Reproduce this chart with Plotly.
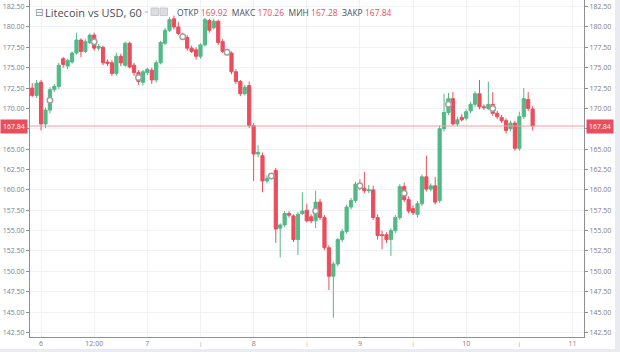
import plotly.graph_objects as go

# ---------------- data ----------------
# hourly candles, x = hours since day "6" 00:00
hours = list(range(-2, 112))
opens = [172.5, 171.6, 173.2, 168.1, 169.8, 172.3, 172.7, 176.1, 175.2, 175.7,
         176.8, 178.4, 177.0, 178.1, 179.0, 177.4, 177.5, 175.7, 175.6, 174.3,
         176.4, 175.3, 178.0, 175.3, 174.4, 173.2, 174.4, 174.7, 173.5, 175.6,
         178.0, 179.6, 181.0, 180.0, 179.0, 178.7, 177.4, 177.2, 176.4, 177.8,
         180.8, 179.9, 180.7, 178.2, 176.9, 176.8, 174.5, 173.3, 171.8, 172.8,
         167.9, 164.4, 164.2, 161.1, 161.6, 162.4, 155.3, 155.7, 157.1, 156.8,
         153.9, 157.1, 157.5, 156.7, 156.2, 158.5, 156.6, 152.9, 149.4, 150.9,
         153.9, 154.9, 157.9, 158.7, 160.6, 160.2, 159.9, 160.0, 156.6, 154.5,
         154.5, 153.9, 155.0, 156.6, 160.4, 158.8, 157.7, 157.0, 158.3, 161.6,
         160.1, 160.5, 158.7, 167.5, 169.5, 171.2, 168.1, 168.9, 168.8, 169.7,
         170.5, 171.8, 170.2, 170.0, 170.5, 169.4, 168.9, 168.5, 167.5, 168.2,
         165.1, 169.0, 171.1, 169.92]
highs = [173.1, 173.5, 173.5, 170.1, 172.6, 173.0, 175.6, 176.3, 176.1, 177.0,
         179.3, 178.6, 178.5, 179.2, 179.3, 177.9, 177.7, 176.0, 175.9, 176.8,
         176.7, 178.2, 178.2, 175.6, 174.7, 174.7, 175.0, 175.0, 175.9, 178.3,
         179.9, 181.2, 181.4, 180.6, 179.3, 179.0, 177.7, 177.5, 178.0, 181.1,
         181.0, 181.0, 180.9, 178.5, 177.2, 177.0, 174.8, 173.5, 172.9, 173.3,
         168.2, 165.5, 164.6, 161.8, 162.0, 162.7, 155.9, 157.4, 157.4, 157.0,
         157.3, 159.7, 158.3, 157.0, 159.9, 158.9, 156.9, 153.2, 151.2, 154.1,
         155.2, 158.2, 159.0, 161.0, 161.3, 162.2, 160.6, 160.5, 157.0, 155.0,
         154.8, 155.3, 156.9, 160.7, 160.9, 159.2, 158.1, 158.6, 161.9, 164.2,
         160.8, 161.6, 167.9, 171.8, 171.9, 172.0, 169.0, 169.3, 169.9, 170.8,
         172.1, 173.5, 170.5, 173.3, 172.0, 169.7, 169.2, 168.8, 168.5, 168.5,
         169.6, 172.5, 172.0, 170.26]
lows = [171.4, 171.3, 167.3, 167.6, 169.4, 172.0, 172.4, 175.0, 174.8, 175.5,
        176.6, 176.3, 176.8, 177.9, 177.1, 177.1, 175.3, 175.2, 174.0, 174.0,
        175.2, 175.1, 174.9, 174.0, 172.9, 172.8, 174.1, 173.0, 173.2, 175.4,
        177.8, 179.4, 179.7, 179.0, 178.5, 177.1, 176.8, 176.0, 176.1, 177.6,
        179.3, 179.7, 177.8, 176.8, 176.5, 174.2, 173.0, 171.5, 171.6, 167.6,
        161.1, 164.0, 159.7, 160.8, 161.3, 153.5, 151.7, 155.4, 156.6, 153.6,
        152.0, 156.9, 156.0, 155.9, 155.3, 156.3, 152.6, 147.7, 144.3, 150.6,
        153.6, 154.6, 157.6, 158.4, 160.0, 159.6, 159.6, 156.3, 153.9, 152.7,
        153.5, 151.9, 154.7, 156.3, 158.5, 157.1, 156.9, 156.6, 158.0, 159.8,
        159.8, 158.2, 158.4, 167.2, 169.2, 167.9, 167.8, 168.4, 168.5, 169.4,
        170.2, 169.9, 169.8, 169.8, 169.1, 168.7, 168.2, 166.9, 167.2, 164.8,
        164.8, 168.7, 169.7, 167.28]
closes = [171.6, 173.1, 168.1, 169.8, 172.3, 172.7, 175.3, 175.4, 175.9, 176.8,
          178.4, 177.0, 178.2, 179.0, 177.4, 177.6, 175.6, 175.5, 174.3, 176.4,
          175.6, 178.0, 175.1, 174.4, 173.3, 174.5, 174.8, 173.5, 175.6, 178.1,
          179.6, 180.9, 180.0, 179.2, 178.8, 177.4, 177.0, 176.4, 177.8, 180.9,
          179.6, 180.7, 178.1, 177.0, 176.8, 174.5, 173.3, 171.8, 172.6, 167.9,
          164.4, 164.6, 161.1, 161.4, 161.7, 155.2, 155.7, 157.1, 156.9, 153.9,
          157.0, 157.4, 156.2, 156.2, 158.5, 156.6, 152.9, 149.4, 150.9, 153.9,
          154.9, 157.9, 158.7, 160.7, 160.3, 159.9, 160.0, 156.6, 154.4, 154.4,
          153.9, 155.0, 156.6, 160.4, 158.8, 157.4, 157.2, 158.3, 161.6, 160.1,
          160.5, 158.5, 167.5, 169.5, 171.2, 168.1, 168.6, 168.6, 169.6, 170.5,
          171.8, 170.2, 170.1, 170.5, 169.4, 169.0, 168.5, 167.3, 168.2, 165.1,
          169.0, 171.2, 170.0, 167.84]

marker_hours = [2, 12, 22, 32, 42, 52, 62, 72, 82, 92, 102]
marker_prices = [171.0, 178.2, 173.8, 178.8, 176.9, 161.7, 157.4, 160.5, 159.6, 170.5, 170.0]

y_ticks = [142.5, 145.0, 147.5, 150.0, 152.5, 155.0, 157.5, 160.0, 162.5, 165.0,
           167.5, 170.0, 172.5, 175.0, 177.5, 180.0, 182.5]
# 167.50 is hidden under the last-price tag in the reference
y_tick_labels = ["142.50", "145.00", "147.50", "150.00", "152.50", "155.00",
                 "157.50", "160.00", "162.50", "165.00", "", "170.00", "172.50",
                 "175.00", "177.50", "180.00", "182.50"]
x_tick_hours = [0, 12, 24, 36, 48, 60, 72, 84, 96, 108, 120]
SMALL = "<span style='font-size:5px'>|</span>"
x_tick_labels = ["6", "12:00", "7", SMALL, "8", SMALL, "9", SMALL, "10", SMALL, "11"]

last_price = 167.84
symbol_title = "Litecoin vs USD, 60"
ohlc_names = ["ОТКР", "МАКС", "МИН", "ЗАКР"]
ohlc_values = ["169.92", "170.26", "167.28", "167.84"]

# ---------------- style ----------------
W, H = 620, 352
ML, MR, MT, MB = 30, 36, 0, 15
PW, PH = W - ML - MR, H - MT - MB
UP = "#53b987"
DN = "#eb4d5c"
TXT = "#7b7e87"
FONT = "Open Sans"


def px(x):
    return (x - ML) / PW


def py(y):
    return (H - MB - y) / PH


fig = go.Figure()
fig.add_trace(go.Candlestick(
    x=hours, open=opens, high=highs, low=lows, close=closes,
    increasing=dict(line=dict(color=UP, width=1), fillcolor=UP),
    decreasing=dict(line=dict(color=DN, width=1), fillcolor=DN),
    whiskerwidth=0, showlegend=False, hoverinfo="skip",
))
fig.add_trace(go.Scatter(
    x=marker_hours, y=marker_prices, mode="markers", yaxis="y2",
    marker=dict(symbol="circle", size=5.5, color="white",
                line=dict(color="#a0a0a0", width=1.5)),
    showlegend=False, hoverinfo="skip",
))

yr = [141.94, 183.31]
axis_common = dict(
    range=yr, tickvals=y_ticks, ticktext=y_tick_labels, zeroline=False,
    showline=True, linecolor="#8c8f96", linewidth=1, ticks="outside",
    ticklen=3, tickcolor="#8c8f96",
    tickfont=dict(family=FONT, size=7, color=TXT), fixedrange=True,
)

fig.update_layout(
    width=W, height=H,
    margin=dict(l=ML, r=MR, t=MT, b=MB),
    paper_bgcolor="white", plot_bgcolor="white",
    boxgap=0.2, boxgroupgap=0.1,
    hovermode=False,
    xaxis=dict(
        range=[-2.5, 122.6], tickvals=x_tick_hours, ticktext=x_tick_labels,
        showgrid=True, gridcolor="#f0f2f6", zeroline=False, showline=True,
        linecolor="#8c8f96", linewidth=1, ticks="", ticklen=0,
        tickfont=dict(family=FONT, size=7, color=TXT),
        rangeslider=dict(visible=False), fixedrange=True,
    ),
    yaxis=dict(side="left", showgrid=True, gridcolor="#f0f2f6", gridwidth=1,
               **axis_common),
    yaxis2=dict(side="right", overlaying="y", anchor="x", showgrid=False,
                **axis_common),
)

# last price line
fig.add_shape(type="line", xref="paper", x0=0, x1=1, yref="y", y0=last_price,
              y1=last_price, line=dict(color="#f29aa2", width=1))

# price tags on both axes
for xc in (px(13.5), px(600)):
    fig.add_annotation(xref="paper", yref="y", x=xc, y=last_price,
                       text=f"{last_price:.2f}", showarrow=False,
                       xanchor="center", yanchor="middle",
                       bgcolor=DN, borderpad=2,
                       font=dict(family=FONT, size=7, color="white"))

# header
ty = py(12)
fig.add_annotation(xref="paper", yref="paper", x=px(33), y=ty, text="⊟",
                   showarrow=False, xanchor="left", yanchor="middle",
                   font=dict(family="DejaVu Sans", size=10, color="#8a8d95"))
fig.add_annotation(xref="paper", yref="paper", x=px(43), y=ty, text=symbol_title,
                   showarrow=False, xanchor="left", yanchor="middle",
                   font=dict(family=FONT, size=11, color="#4a4d57"))
fig.add_annotation(xref="paper", yref="paper", x=px(141), y=ty + 0.004, text="⌄",
                   showarrow=False, xanchor="left", yanchor="middle",
                   font=dict(family="DejaVu Sans", size=8, color="#b0b3ba"))
for x0 in (151, 160):
    fig.add_shape(type="rect", xref="paper", yref="paper",
                  x0=px(x0), x1=px(x0 + 7.5), y0=py(15.5), y1=py(8),
                  fillcolor="#dcdde0", line=dict(color="#c9cace", width=1))

NB = "\u00a0"
parts = []
for nm, vl in zip(ohlc_names, ohlc_values):
    parts.append(f"{nm}{NB}<span style='color:{DN}'>{vl}</span>")
ohlc_text = (NB * 2).join(parts)
fig.add_annotation(xref="paper", yref="paper", x=px(175), y=ty, text=ohlc_text,
                   showarrow=False, xanchor="left", yanchor="middle",
                   font=dict(family=FONT, size=8.5, color="#4a4d57"))

# outer frame bands (widget border)
fig.add_shape(type="rect", xref="paper", yref="paper", x0=px(615), x1=px(620),
              y0=py(352), y1=py(0), fillcolor="#e8ebf1", line=dict(width=0), layer="above")
fig.add_shape(type="rect", xref="paper", yref="paper", x0=px(0), x1=px(620),
              y0=py(352), y1=py(349), fillcolor="#e8ebf1", line=dict(width=0), layer="above")

fig.write_html("out.html")
